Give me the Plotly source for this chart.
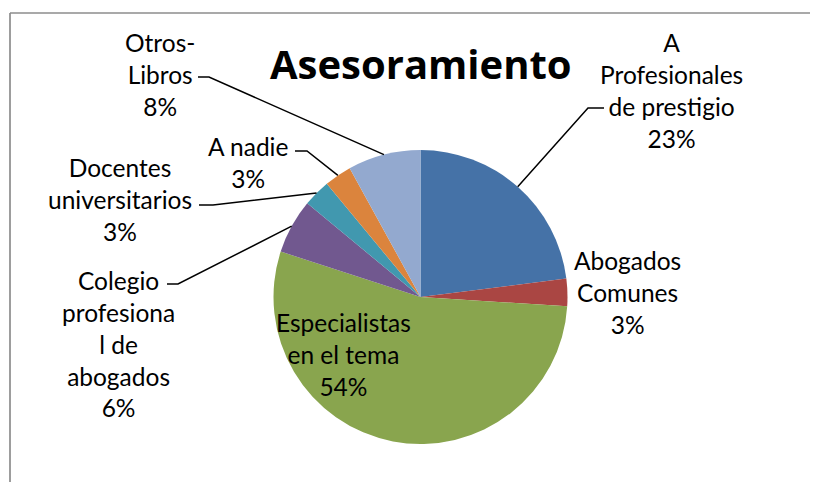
import math
import plotly.graph_objects as go

# ---- data ----
categories = ["A Profesionales de prestigio", "Abogados Comunes", "Especialistas en el tema",
              "Colegio profesional de abogados", "Docentes universitarios", "A nadie", "Otros-Libros"]
label_lines = [["A", "Profesionales", "de prestigio"], ["Abogados", "Comunes"], ["Especialistas", "en el tema"],
               ["Colegio", "profesiona", "l de", "abogados"], ["Docentes", "universitarios"], ["A nadie"],
               ["Otros-", "Libros"]]
values = [23, 3, 54, 6, 3, 3, 8]
colors = ["#4572A7", "#AA4643", "#89A54E", "#71588F", "#4198AF", "#DB843D", "#93A9CF"]
title_text = "Asesoramiento"

# page has an 8px body margin; figure is sized to fit the window
OFF = 8
W, H = 818 - 2 * OFF, 490 - 2 * OFF
CX, CY, R = 420.5, 297.0, 147.0
FONT = "Lato"

def px(x):
    return (x - OFF) / W

def py(y):
    return 1 - (y - OFF) / H

fig = go.Figure(go.Pie(
    labels=categories, values=values, sort=False, direction="clockwise", rotation=0,
    marker=dict(colors=colors, line=dict(width=0)), textinfo="none", hoverinfo="label+percent",
    showlegend=False,
    domain=dict(x=[px(CX - R), px(CX + R)], y=[py(CY + R), py(CY - R)]),
))

# label layout: (center x, center y of block) and leader elbow points or None
label_pos = [(671, 91), (627, 292), (343, 354), (118, 344), (120, 199), (248, 162), (160, 75)]
elbows = [((604, 108), (588, 108)), None, None, ((167, 284), (178, 284)), ((199, 205), (213, 205)),
          ((295, 151), (307, 151)), ((198, 77), (209, 77))]

annotations = []
shapes = []
total = sum(values)
cum = 0
for i, v in enumerate(values):
    mid = (cum + v / 2) / total * 2 * math.pi
    cum += v
    pct = round(v / total * 100)
    txt = "<br>".join(label_lines[i] + [f"{pct}%"])
    lx, ly = label_pos[i]
    annotations.append(dict(x=px(lx), y=py(ly), xref="paper", yref="paper", text=txt, showarrow=False,
                            xanchor="center", yanchor="middle", align="center",
                            font=dict(family=FONT, size=24.5, color="#000000")))
    if elbows[i] is not None:
        ex = CX + R * math.sin(mid)
        ey = CY - R * math.cos(mid)
        (ax, ay), (bx, by) = elbows[i]
        path = f"M {px(ax)} {py(ay)} L {px(bx)} {py(by)} L {px(ex)} {py(ey)}"
        shapes.append(dict(type="path", path=path, xref="paper", yref="paper",
                           line=dict(color="#000000", width=1.5)))

annotations.append(dict(x=px(421), y=py(63), xref="paper", yref="paper", text=f"<b>{title_text}</b>",
                        showarrow=False, xanchor="center", yanchor="middle",
                        font=dict(family="Open Sans", size=40, color="#000000")))

# chart-area border: only top and left edges are visible in the window
shapes.append(dict(type="line", xref="paper", yref="paper", x0=px(10), x1=1.0, y0=py(13), y1=py(13),
                   line=dict(color="#8C8C8C", width=1.7), layer="above"))
shapes.append(dict(type="line", xref="paper", yref="paper", x0=px(10), x1=px(10), y0=py(13), y1=0.0,
                   line=dict(color="#8C8C8C", width=1.7), layer="above"))

fig.update_layout(width=W, height=H, margin=dict(l=0, r=0, t=0, b=0), paper_bgcolor="white",
                  plot_bgcolor="white", annotations=annotations, shapes=shapes)

fig.write_html("out.html")
